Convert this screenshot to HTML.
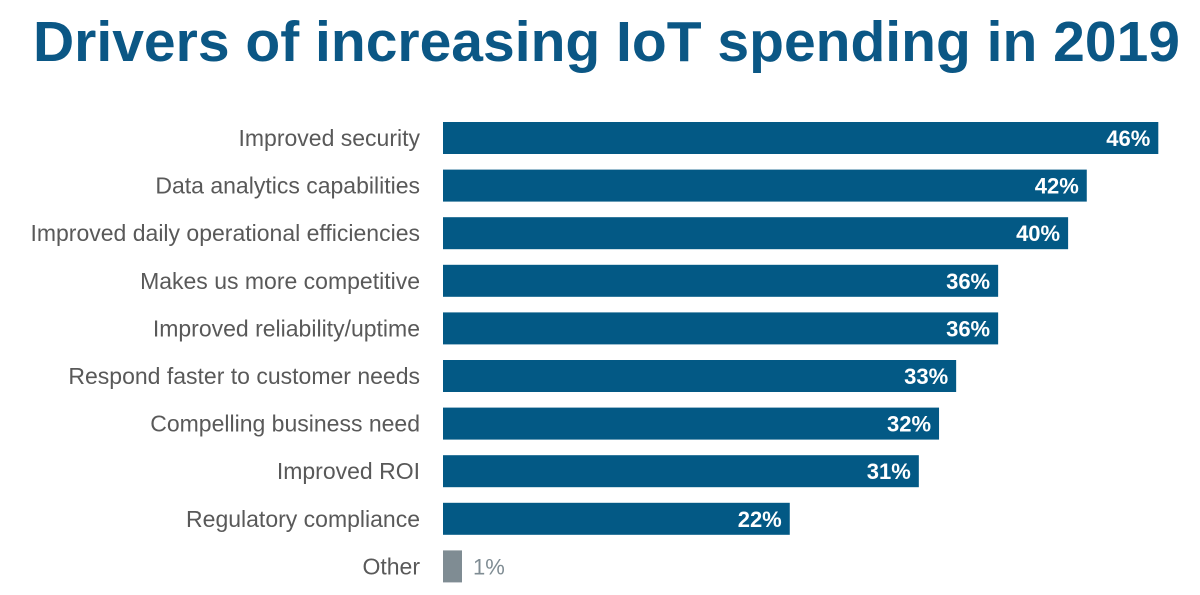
<!DOCTYPE html>
<html><head><meta charset="utf-8"><style>
html,body{margin:0;padding:0;background:#fff;width:1200px;height:595px;overflow:hidden}
svg{display:block}
</style></head><body>
<svg id="chart" width="1200" height="595">
<text x="33" y="61" font-family="'Liberation Sans Narrow','Liberation Sans',sans-serif" font-weight="bold" font-size="57" fill="#0b5785" textLength="1147" lengthAdjust="spacingAndGlyphs">Drivers of increasing IoT spending in 2019</text>
<g id="bars"></g>
</svg>
<script>
const categories=["Improved security","Data analytics capabilities","Improved daily operational efficiencies","Makes us more competitive","Improved reliability/uptime","Respond faster to customer needs","Compelling business need","Improved ROI","Regulatory compliance","Other"];
const values=[46,41.4,40.2,35.7,35.7,33,31.9,30.6,22.3,1];
const valueLabels=["46%","42%","40%","36%","36%","33%","32%","31%","22%","1%"];
const NS="http://www.w3.org/2000/svg";
const x0=443, pxPer=15.55, top0=122, pitch=47.6, bh=32;
const xs=v=>Math.max(v*pxPer,19);
const ys=i=>top0+i*pitch;
const g=document.getElementById('bars');
function mk(t,a){const e=document.createElementNS(NS,t);for(const k in a)e.setAttribute(k,a[k]);return e;}
categories.forEach((c,i)=>{
  const y=ys(i), w=xs(values[i]), other=c==="Other";
  const lab=mk('text',{x:420,y:y+bh/2+8,'text-anchor':'end','font-family':"'Liberation Sans Narrow','Liberation Sans',sans-serif",'font-size':23,fill:'#595959'});
  lab.textContent=c;
  
  
  g.appendChild(lab);
  const r=mk('rect',{x:x0,y:y,width:w,height:bh,fill:other?'#7f8c93':'#035985'});
  
  
  g.appendChild(r);
  const v=mk('text',{'font-family':"'Liberation Sans',sans-serif",'font-size':22,'font-weight':other?'normal':'bold',y:y+bh/2+8});
  if(other){v.setAttribute('x',x0+w+11);v.setAttribute('fill','#7f8c93');}
  else{v.setAttribute('x',x0+w-8);v.setAttribute('text-anchor','end');v.setAttribute('fill','#fff');}
  v.textContent=valueLabels[i];
  
  
  g.appendChild(v);
});
</script>
</body></html>
